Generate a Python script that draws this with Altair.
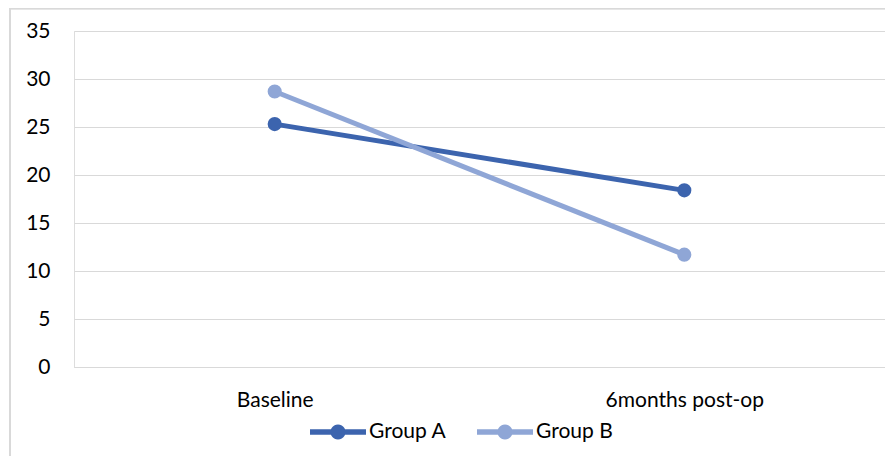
import altair as alt
import pandas as pd
import math

timepoints = ["Baseline", "6months post-op"]
groups = ["Group A", "Group B"]
group_a = [25.3, 18.4]
group_b = [28.7, 11.7]
y_ticks = [0, 5, 10, 15, 20, 25, 30, 35]
colors = ["#3C64AE", "#8FA6D6"]

rows = []
for t, a, b in zip(timepoints, group_a, group_b):
    rows.append({"time": t, "group": "Group A", "value": a})
    rows.append({"time": t, "group": "Group B", "value": b})
df = pd.DataFrame(rows)

FONT = "Lato"
W, H = 811, 336

x_enc = alt.X("time:N", sort=timepoints,
              scale=alt.Scale(type="point", padding=0.49),
              axis=alt.Axis(title=None, labelAngle=0, ticks=False, domain=True,
                            domainColor="#D9D9D9", domainWidth=1.2,
                            labelPadding=22, labelFontSize=21, labelFont=FONT,
                            labelColor="#000000", grid=False))
y_enc = alt.Y("value:Q",
              scale=alt.Scale(domain=[0, 35], nice=False),
              axis=alt.Axis(title=None, values=y_ticks, ticks=False, domain=False,
                            gridColor="#D9D9D9", gridWidth=1.2,
                            labelPadding=24, labelFontSize=21, labelFont=FONT,
                            labelColor="#000000"))

# legend glyph: a line with a dot in the middle
r = 0.27
circ = " ".join(("M" if i == 0 else "L") + f"{r*math.cos(2*math.pi*i/24):.3f},{r*math.sin(2*math.pi*i/24):.3f}"
                for i in range(24)) + " Z"
legend_path = "M-1,-0.1 L1,-0.1 L1,0.1 L-1,0.1 Z " + circ

color_enc = alt.Color("group:N", scale=alt.Scale(domain=groups, range=colors),
                      legend=alt.Legend(title=None, orient="none", direction="horizontal",
                                        legendX=236, legendY=373,
                                        symbolType=legend_path, symbolSize=3136,
                                        symbolStrokeWidth=0, symbolOpacity=1,
                                        labelOffset=3, columnPadding=30, padding=0,
                                        labelFontSize=21, labelFont=FONT,
                                        labelColor="#000000"))

frame = alt.Chart(df).mark_rect(filled=False, stroke="#D9D9D9", strokeWidth=1.5).encode(
    x=alt.value(-64), x2=alt.value(W + 40), y=alt.value(-22.5), y2=alt.value(H + 200)
)

lines = alt.Chart(df).mark_line(strokeWidth=5).encode(
    x=x_enc, y=y_enc, color=color_enc,
)

points = alt.Chart(df).mark_circle(size=200, opacity=1).encode(
    x=x_enc, y=y_enc, color=color_enc,
)

chart = alt.layer(frame, lines, points).properties(
    width=W, height=H,
    autosize=alt.AutoSizeParams(type="none"),
    padding={"left": 66, "top": 23, "right": 0, "bottom": 89},
).configure_view(stroke=None).configure(background="#FFFFFF")

chart.save("out.html", embed_options={"renderer": "svg", "actions": False})
